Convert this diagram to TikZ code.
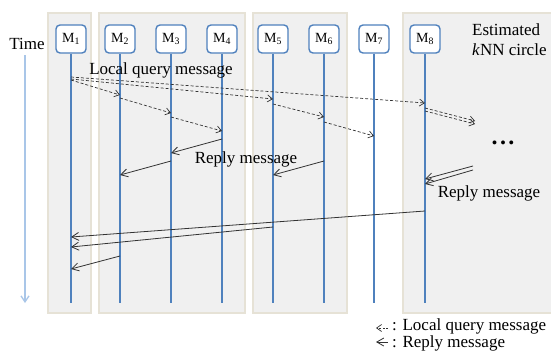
\documentclass[tikz,border=0pt]{standalone}
\usepackage{fontspec}
\setmainfont{Liberation Serif}
\usetikzlibrary{arrows.meta}
\definecolor{panelfill}{HTML}{F0F0F0}
\definecolor{paneledge}{HTML}{E6E2D6}
\definecolor{lifeblue}{HTML}{4F81BD}
\definecolor{timeblue}{HTML}{A9C6E8}
\definecolor{msg}{HTML}{333333}
\begin{document}
\begin{tikzpicture}[x=1pt,y=-1pt,
 panel/.style={fill=panelfill,draw=paneledge,line width=1.2pt},
 mbox/.style={draw=lifeblue,fill=white,rounded corners=4pt,line width=1.4pt,minimum width=30pt,minimum height=28pt,inner sep=0pt,font=\fontsize{14}{16}\selectfont},
 life/.style={draw=lifeblue,line width=1.1pt},
 query/.style={draw=msg,line width=0.7pt,dash pattern=on 3pt off 2pt,-{Straight Barb[length=5pt,width=7pt]}},
 reply/.style={draw=msg,line width=0.8pt,-{Straight Barb[length=7pt,width=8pt]}},
 lbl/.style={font=\fontsize{17}{20}\selectfont,inner sep=0pt}]
\useasboundingbox (0,0) rectangle (551,351);
% panels
\path[panel] (48,13) rectangle (91,313);
\path[panel] (99,13) rectangle (245,313);
\path[panel] (253,13) rectangle (347,313);
\path[panel] (403,13) rectangle (560,313);
% time axis
\node[lbl,anchor=base] (time) at (27,49) {Time};
\coordinate (tstart) at (25,55);
\coordinate (tend) at (25,303);
\draw[timeblue,line width=1.3pt,-{Straight Barb[length=6pt,width=8pt]}] (tstart) -- (tend);
% lifeline boxes
\node[mbox] (m1) at (71,39) {M\textsubscript{1}};
\node[mbox] (m2) at (120,39) {M\textsubscript{2}};
\node[mbox] (m3) at (171,39) {M\textsubscript{3}};
\node[mbox] (m4) at (222,39) {M\textsubscript{4}};
\node[mbox] (m5) at (273,39) {M\textsubscript{5}};
\node[mbox] (m6) at (324,39) {M\textsubscript{6}};
\node[mbox] (m7) at (374,39) {M\textsubscript{7}};
\node[mbox] (m8) at (425,39) {M\textsubscript{8}};
\foreach \m in {m1,m2,m3,m4,m5,m6,m7,m8}
  \draw[life] (\m.south) -- (\m |- 0,303);
% local query messages
\draw[query] (m1 |- 0,80) -- (m2 |- 0,95);
\draw[query] (m1 |- 0,79) -- (m5 |- 0,99);
\draw[query] (m1 |- 0,77) -- (m8 |- 0,103);
\draw[query] (m2 |- 0,98) -- (m3 |- 0,113);
\draw[query] (m3 |- 0,117) -- (m4 |- 0,131);
\draw[query] (m5 |- 0,104) -- (m6 |- 0,117);
\draw[query] (m6 |- 0,122) -- (m7 |- 0,136);
\coordinate (qa) at (475,121);
\coordinate (qb) at (475,124);
\draw[query] (m8 |- 0,108) -- (qa);
\draw[query] (m8 |- 0,111) -- (qb);
% reply messages
\draw[reply] (m4 |- 0,139) -- (m3 |- 0,153);
\draw[reply] (m3 |- 0,161) -- (m2 |- 0,175);
\draw[reply] (m6 |- 0,161) -- (m5 |- 0,175);
\coordinate (ra) at (473,166);
\coordinate (rb) at (473,170);
\draw[reply] (ra) -- (m8 |- 0,179);
\draw[reply] (rb) -- (m8 |- 0,184);
\draw[reply] (m8 |- 0,211) -- (m1 |- 0,237);
\draw[reply] (m5 |- 0,227) -- (m1 |- 0,247);
\draw[reply] (m2 |- 0,256) -- (m1 |- 0,269);
% labels
\node[lbl,anchor=base] (lq) at (161,74) {Local query message};
\node[lbl,anchor=base] (rp1) at (246,163) {Reply message};
\node[lbl,anchor=base] (rp2) at (489,197) {Reply message};
\node[lbl,anchor=base west,align=left] (est) at (472,55) {Estimated\\\textit{k}NN circle};
\node[inner sep=0pt,anchor=base,font=\fontsize{24}{24}\selectfont\bfseries] (dots) at (503,144) {.\hspace{2.5pt}.\hspace{2.5pt}.};
% legend
\coordinate (la1) at (388,328);
\coordinate (la2) at (376,328);
\coordinate (lb1) at (388,342);
\coordinate (lb2) at (376,342);
\draw[query,dash pattern=on 2pt off 1.5pt] (la1) -- (la2);
\draw[reply] (lb1) -- (lb2);
\node[inner sep=0pt,anchor=base west,align=left,font=\fontsize{17}{14}\selectfont] (leg) at (392,347) {: Local query message\\: Reply message};
\end{tikzpicture}
\end{document}
